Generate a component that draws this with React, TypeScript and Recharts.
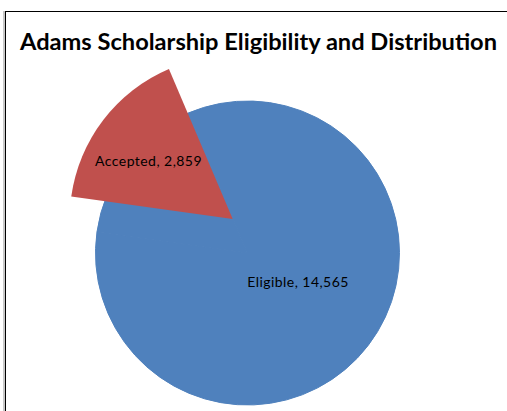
import { PieChart, Pie, Cell } from "recharts"

const names = ["Eligible", "Accepted"]
const counts = [14565, 2859]
const colors = ["#4F81BD", "#C0504D"]
const title = "Adams Scholarship Eligibility and Distribution"

const data = names.map((name, i) => ({ name, value: counts[i] }))

// label spot per slice: share of radius and a small turn off the bisector
const labelSpot: Record<string, { k: number; turn: number }> = {
  Eligible: { k: 0.383, turn: 7.6 },
  Accepted: { k: 0.627, turn: 2.9 },
}

const RAD = Math.PI / 180

function makeLabel(show: string) {
  return (props: any) => {
    const { cx, cy, midAngle, outerRadius, name, value } = props
    if (name !== show) return null
    const spot = labelSpot[name]
    const r = outerRadius * spot.k
    const a = midAngle + spot.turn
    const x = cx + r * Math.cos(-a * RAD)
    const y = cy + r * Math.sin(-a * RAD)
    return (
      <text
        x={x}
        y={y + 5}
        textAnchor="middle"
        fill="#000"
        fontSize={14}
        letterSpacing={0.45}
        fontFamily="Lato, 'Open Sans', sans-serif"
      >
        {`${name}, ${value.toLocaleString("en-US")}`}
      </text>
    )
  }
}

export default function App() {
  return (
    <div style={{ position: "absolute", left: 0, top: 0, width: 507, height: 411, overflow: "hidden", background: "#fff" }}>
      <div
        style={{
          position: "absolute",
          left: 5,
          top: 11,
          width: 600,
          height: 500,
          borderLeft: "1px solid #000",
          borderTop: "1px solid #000",
          boxShadow: "-2px 0 0 #c8c8c8",
        }}
      />
      <svg width={507} height={70} style={{ position: "absolute", left: 0, top: 0 }}>
        <text
          x={258.5}
          y={50}
          textAnchor="middle"
          fontFamily="Lato, 'Open Sans', sans-serif"
          fontWeight="bold"
          fontSize={23}
          textLength={477}
          lengthAdjust="spacingAndGlyphs"
          fill="#000"
        >
          {title}
        </text>
      </svg>
      <div style={{ position: "absolute", left: 0, top: 0 }}>
        <PieChart width={507} height={411} margin={{ top: 0, right: 0, bottom: 0, left: 0 }}>
          {/* main disc; the accepted wedge underneath is covered by the pulled-out slice */}
          <Pie
            data={data}
            dataKey="value"
            nameKey="name"
            cx={247.5}
            cy={253}
            outerRadius={152}
            startAngle={172.1}
            endAngle={532.1}
            labelLine={false}
            label={makeLabel("Eligible")}
            isAnimationActive={false}
          >
            {data.map((d) => (
              <Cell key={d.name} fill={colors[0]} stroke={colors[0]} strokeWidth={1} />
            ))}
          </Pie>
          <Pie
            data={data}
            dataKey="value"
            nameKey="name"
            cx={232.7}
            cy={219}
            outerRadius={163}
            startAngle={172.1}
            endAngle={532.1}
            stroke="none"
            labelLine={false}
            label={makeLabel("Accepted")}
            isAnimationActive={false}
          >
            {data.map((d, i) => (
              <Cell key={d.name} fill={d.name === "Accepted" ? colors[i] : "none"} stroke="none" />
            ))}
          </Pie>
        </PieChart>
      </div>
    </div>
  )
}
